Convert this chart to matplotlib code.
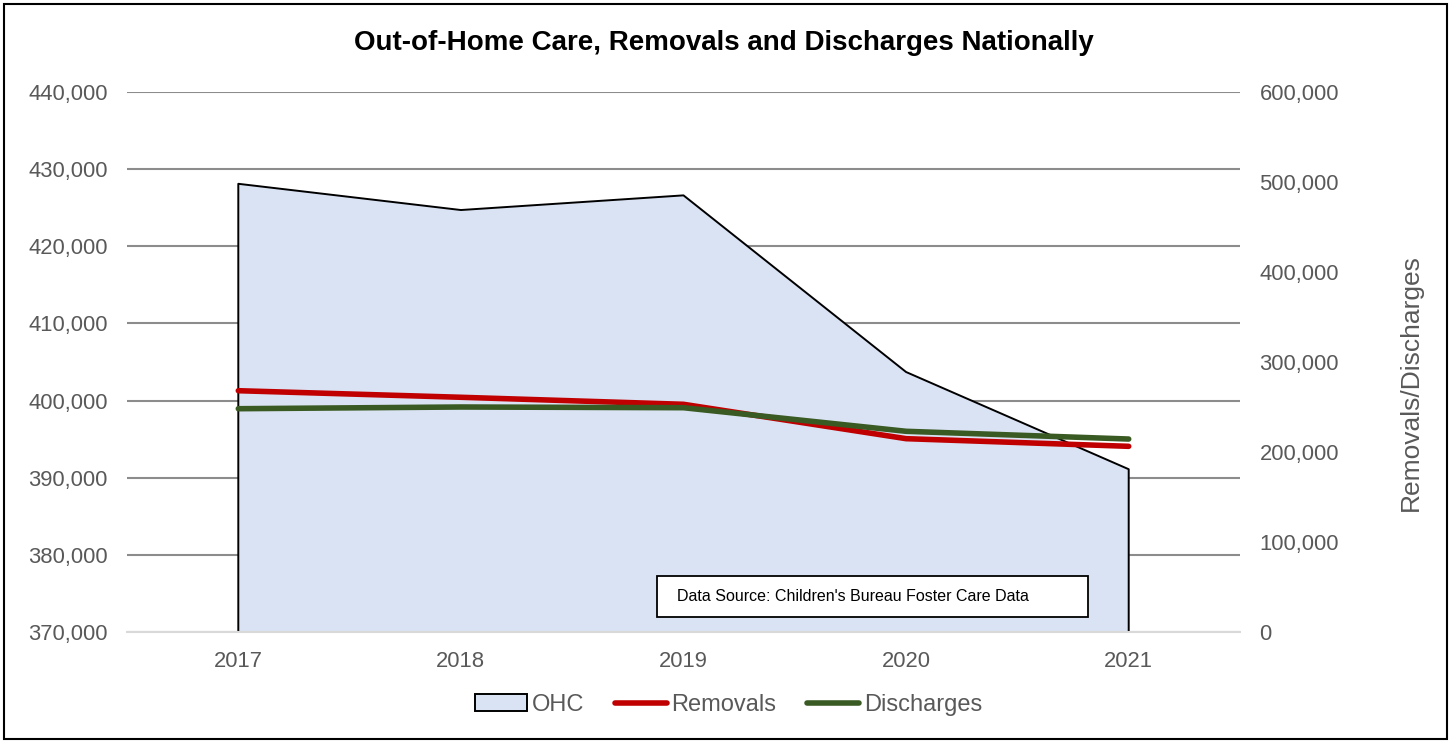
import matplotlib.pyplot as plt
from matplotlib.patches import Patch, Rectangle
from matplotlib.lines import Line2D
from matplotlib.ticker import FuncFormatter

plt.rcParams['font.family'] = ['Liberation Sans', 'DejaVu Sans']

# data
years = ['2017', '2018', '2019', '2020', '2021']
ohc = [428100, 424700, 426600, 403700, 391100]
removals = [268100, 260800, 253000, 214800, 206300]
discharges = [248100, 250000, 249200, 223000, 214400]

grey = '#595959'
fig = plt.figure(figsize=(14.51, 7.43), dpi=100)
ax = fig.add_axes([127 / 1451, 1 - 632 / 743, (1240 - 127) / 1451, (632 - 92) / 743])

x = list(range(len(years)))
base = 370000

# OHC area on the left axis
ax.fill_between(x, base, ohc, color='#dae3f3', zorder=2, linewidth=0)
ax.plot([x[0]] + x + [x[-1]], [base] + ohc + [base], color='black', lw=1.4, zorder=3)

ax.set_xlim(-0.5, 4.5)
ax.set_ylim(370000, 440000)
ax.set_yticks(range(370000, 440001, 10000))
ax.yaxis.set_major_formatter(FuncFormatter(lambda v, p: f'{int(v):,}'))
ax.set_xticks(x)
ax.set_xticklabels(years)
ax.grid(axis='y', color='#8c8c8c', lw=1.5, zorder=0)
ax.set_axisbelow(True)
for s in ['top', 'left', 'right']:
    ax.spines[s].set_visible(False)
ax.spines['bottom'].set_color('#d9d9d9')
ax.spines['bottom'].set_linewidth(1.5)
ax.spines['bottom'].set_zorder(4)
ax.tick_params(axis='both', length=0, labelsize=15.8, labelcolor=grey)
ax.tick_params(axis='y', pad=14)
ax.tick_params(axis='x', pad=14)

# Removals / Discharges on the right axis
ax2 = ax.twinx()
ax2.plot(x, removals, color='#c00000', lw=4, solid_capstyle='round', zorder=5)
ax2.plot(x, discharges, color='#3a5a23', lw=4, solid_capstyle='round', zorder=6)
ax2.set_ylim(0, 600000)
ax2.set_yticks(range(0, 600001, 100000))
ax2.yaxis.set_major_formatter(FuncFormatter(lambda v, p: f'{int(v):,}'))
for s in ax2.spines.values():
    s.set_visible(False)
ax2.tick_params(axis='y', length=0, labelsize=15.8, labelcolor=grey, pad=14)
fig.text(1411 / 1451, 1 - 383 / 743, 'Removals/Discharges', rotation=90,
         ha='center', va='center', fontsize=19, color=grey)

fig.text(0.499, 1 - 43 / 743, 'Out-of-Home Care, Removals and Discharges Nationally',
         ha='center', va='center', fontsize=20, fontweight='bold')

# data source box
ax2.add_patch(Rectangle((0.476, 0.028), 0.3874, 0.076, transform=ax.transAxes,
                        fc='white', ec='black', lw=1.3, zorder=9))
ax2.text(0.494, 0.066, "Data Source: Children's Bureau Foster Care Data",
         transform=ax.transAxes, fontsize=11.5, va='center', ha='left', zorder=10)

handles = [Patch(facecolor='#dae3f3', edgecolor='black', lw=1.4, label='OHC'),
           Line2D([], [], color='#c00000', lw=4, label='Removals', solid_capstyle='round'),
           Line2D([], [], color='#3a5a23', lw=4, label='Discharges', solid_capstyle='round')]
fig.legend(handles=handles, loc='center', bbox_to_anchor=(0.502, 1 - 705 / 743), ncol=3,
           frameon=False, fontsize=17, labelcolor=grey, handlelength=2.2,
           handletextpad=0.2, columnspacing=1.3)

fig.add_artist(Rectangle((4 / 1451, 4 / 743), 1443 / 1451, 735 / 743, transform=fig.transFigure,
                         fill=False, ec='black', lw=1.5))

fig.savefig('out.png', dpi=100)
